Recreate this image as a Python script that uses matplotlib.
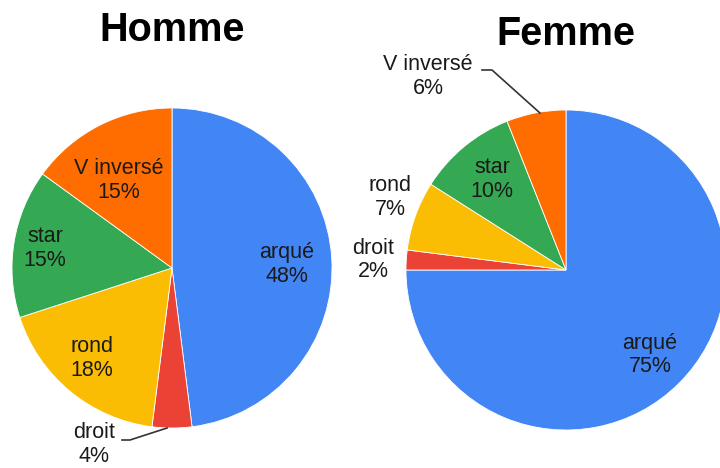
import matplotlib
matplotlib.use("Agg")
import matplotlib.pyplot as plt

plt.rcParams['font.family'] = ['Liberation Sans', 'DejaVu Sans']

categories = ["arqué", "droit", "rond", "star", "V inversé"]
homme_values = [48, 4, 18, 15, 15]
femme_values = [75, 2, 7, 10, 6]
titles = ["Homme", "Femme"]
colors = ["#4285F4", "#EA4335", "#FBBC04", "#34A853", "#FF6D01"]

W, H = 720, 468
fig = plt.figure(figsize=(W / 100, H / 100), dpi=100)

# layout (pixel geometry of each pie, label positions in pie units)
pies = [
    dict(cx=172, cy=268, r=160, title_xy=(172, 30),
         label_pos=[(0.719, 0.022), (-0.4875, -1.103), (-0.5, -0.566),
                    (-0.794, 0.122), (-0.331, 0.547)],
         leader={1: [(-0.3125, -1.075), (-0.2625, -1.075), (-0.031, -1.0)]}),
    dict(cx=566, cy=270, r=160, title_xy=(566, 34),
         label_pos=[(0.525, -0.531), (-1.206, 0.0625), (-1.1, 0.453),
                    (-0.4625, 0.566), (-0.8625, 1.209)],
         leader={4: [(-0.525, 1.25), (-0.4625, 1.25), (-0.1625, 0.981)]}),
]

for vals, title, p in zip([homme_values, femme_values], titles, pies):
    ax = fig.add_axes([(p['cx'] - p['r']) / W, (H - p['cy'] - p['r']) / H,
                       2 * p['r'] / W, 2 * p['r'] / H])
    ax.pie(vals, colors=colors, startangle=90, counterclock=False, radius=1,
           wedgeprops=dict(edgecolor='white', linewidth=0.6))
    ax.set_xlim(-1, 1)
    ax.set_ylim(-1, 1)
    ax.set_aspect('equal')
    ax.axis('off')
    for i, (cat, v) in enumerate(zip(categories, vals)):
        x, y = p['label_pos'][i]
        ax.text(x, y, f"{cat}\n{v}%", ha='center', va='center', fontsize=15.5,
                color='#1a1a1a', linespacing=1.15, clip_on=False)
    for i, pts in p['leader'].items():
        xs = [q[0] for q in pts]
        ys = [q[1] for q in pts]
        ax.plot(xs, ys, color='#333333', lw=1.2, clip_on=False)
    tx, ty = p['title_xy']
    fig.text(tx / W, 1 - ty / H, title, ha='center', va='center',
             fontsize=28.5, fontweight='bold', color='black')

fig.savefig("out.png", dpi=100)
